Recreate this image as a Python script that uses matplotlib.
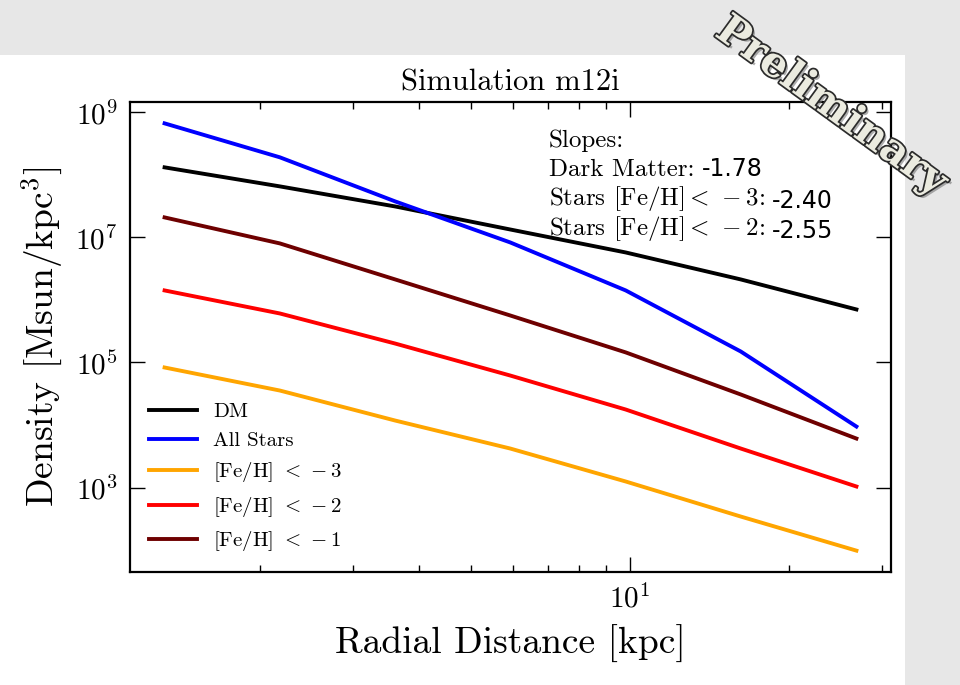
import matplotlib
matplotlib.use("Agg")
import matplotlib.pyplot as plt
import matplotlib.patheffects as pe
from matplotlib.patches import Rectangle
from matplotlib.ticker import NullLocator, NullFormatter, LogFormatterMathtext

plt.rcParams['font.family'] = 'serif'
plt.rcParams['font.serif'] = ['cmr10']
plt.rcParams['mathtext.fontset'] = 'cm'
plt.rcParams['axes.formatter.use_mathtext'] = True

# radial bins [kpc]
radius = [1.32, 2.18, 3.60, 5.94, 9.82, 16.2, 26.8]

# density profiles [Msun/kpc^3]
dm = [1.32e8, 6.55e7, 3.13e7, 1.34e7, 5.75e6, 2.13e6, 7.05e5]
all_stars = [6.67e8, 1.91e8, 3.77e7, 8.32e6, 1.42e6, 1.50e5, 9.46e3]
feh_m3 = [8.32e4, 3.56e4, 1.18e4, 4.21e3, 1.25e3, 3.44e2, 98.0]
feh_m2 = [1.42e6, 6.08e5, 2.01e5, 6.19e4, 1.77e4, 4.21e3, 1.04e3]
feh_m1 = [2.09e7, 8.02e6, 2.13e6, 5.65e5, 1.45e5, 3.08e4, 6.08e3]

slope_labels = [r'Dark Matter:', r'Stars [Fe/H]$<\,-3$:', r'Stars [Fe/H]$<\,-2$:']
slope_values = ['-1.78', '-2.40', '-2.55']

fig = plt.figure(figsize=(9.6, 6.85), dpi=100)
fig.patch.set_facecolor('#e7e7e7')
fig.patches.append(Rectangle((0, 0), 905 / 960, 630 / 685, transform=fig.transFigure,
                             facecolor='white', edgecolor='none', zorder=-10))

ax = fig.add_axes([130 / 960, 1 - 572 / 685, 761 / 960, 470 / 685])

lw = 2.8
ax.plot(radius, dm, color='black', lw=lw, label='DM')
ax.plot(radius, all_stars, color='blue', lw=lw, label='All Stars')
ax.plot(radius, feh_m3, color='orange', lw=lw, label=r'[Fe/H] $<\,-3$')
ax.plot(radius, feh_m2, color='red', lw=lw, label=r'[Fe/H] $<\,-2$')
ax.plot(radius, feh_m1, color='#6e0000', lw=lw, label=r'[Fe/H] $<\,-1$')

ax.set_xscale('log')
ax.set_yscale('log')
ax.set_yticks([1e3, 1e5, 1e7, 1e9])
ax.yaxis.set_major_formatter(LogFormatterMathtext())
ax.yaxis.set_minor_locator(NullLocator())
ax.xaxis.set_minor_formatter(NullFormatter())

ax.tick_params(which='both', direction='in', top=True, right=True, width=1)
ax.tick_params(which='major', length=11, pad=9, labelsize=21)
ax.tick_params(which='minor', length=5)
for s in ax.spines.values():
    s.set_linewidth(1.6)

ax.set_title('Simulation m12i', fontsize=22, pad=8)
ax.set_xlabel('Radial Distance [kpc]', fontsize=27, labelpad=8)
ax.set_ylabel('Density [Msun/kpc$^3$]', fontsize=27, labelpad=8)

ax.legend(loc='lower left', frameon=False, fontsize=15, handlelength=2.3,
          handletextpad=0.8, labelspacing=0.5)

# slopes box
ax.text(0.5506, 0.904, 'Slopes:', transform=ax.transAxes, fontsize=18, va='baseline')
ys = [0.843, 0.781, 0.717]
for lab, val, y in zip(slope_labels, slope_values, ys):
    t = ax.text(0.5506, y, lab, transform=ax.transAxes, fontsize=18, va='baseline')
    ax.annotate(val, xy=(1, 0), xycoords=t, xytext=(5, 0), textcoords='offset points',
                fontsize=17, family='DejaVu Sans', va='bottom')

# slide stamp
fig.text(0.866, 0.845, 'Preliminary', fontsize=30, family='DejaVu Serif', weight='bold',
         rotation=-36, ha='center', va='center', rotation_mode='anchor',
         color='#ebebe0', zorder=20,
         path_effects=[pe.withSimplePatchShadow(offset=(2, -2), shadow_rgbFace='#777777', alpha=0.6),
                       pe.Stroke(linewidth=2.5, foreground='#2b2b2b'), pe.Normal()])

plt.savefig('out.png', dpi=100, facecolor=fig.get_facecolor())
